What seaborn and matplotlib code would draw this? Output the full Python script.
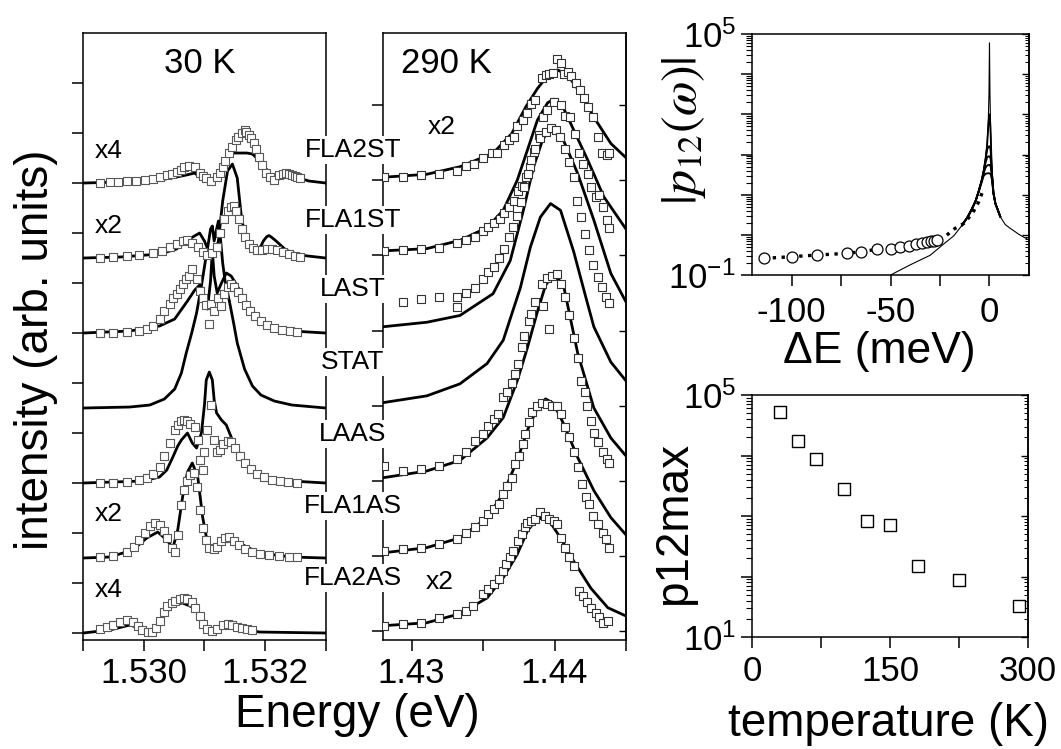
import numpy as np
import matplotlib
matplotlib.use('Agg')
import matplotlib.pyplot as plt
import seaborn as sns
from matplotlib.ticker import LogLocator, NullFormatter, FixedLocator

# ---------------- 30 K spectra: energy (eV), intensity above own baseline ----------------
e30_fla2st_fit = [1.52900, 1.52961, 1.52993, 1.53026, 1.53054, 1.53070, 1.53084, 1.53092, 1.53100, 1.53108,
                  1.53116, 1.53125, 1.53136, 1.53146, 1.53162, 1.53170, 1.53179, 1.53195, 1.53203, 1.53211,
                  1.53223, 1.53234, 1.53256, 1.53272, 1.53300]
i30_fla2st_fit = [0, 0.02, 0.03, 0.06, 0.12, 0.16, 0.20, 0.12, 0.06, 0.04,
                  0.10, 0.20, 0.46, 0.60, 0.60, 0.60, 0.58, 0.40, 0.26, 0.10,
                  0.08, 0.16, 0.10, 0.04, 0]
e30_fla2st_exp = [1.52928, 1.52944, 1.52957, 1.52972, 1.52987, 1.53002, 1.53015, 1.53026, 1.53038, 1.53046,
                  1.53054, 1.53061, 1.53067, 1.53075, 1.53084, 1.53092, 1.53097, 1.53103, 1.53111, 1.53120,
                  1.53125, 1.53130, 1.53134, 1.53141, 1.53146, 1.53152, 1.53156, 1.53161, 1.53166, 1.53169,
                  1.53174, 1.53177, 1.53182, 1.53185, 1.53190, 1.53195, 1.53202, 1.53208, 1.53215, 1.53223,
                  1.53229, 1.53234, 1.53239, 1.53244, 1.53249, 1.53252, 1.53257]
i30_fla2st_exp = [0, 0.02, 0.03, 0.04, 0.05, 0.06, 0.08, 0.12, 0.16, 0.19,
                  0.22, 0.27, 0.32, 0.34, 0.32, 0.20, 0.15, 0.10, 0.04, 0.12,
                  0.20, 0.32, 0.45, 0.60, 0.72, 0.86, 0.92, 1.00, 1.06, 1.03,
                  0.96, 0.90, 0.80, 0.68, 0.52, 0.36, 0.20, 0.12, 0.06, 0.16,
                  0.19, 0.20, 0.19, 0.16, 0.14, 0.12, 0.10]

e30_fla1st_fit = [1.52900, 1.52961, 1.53026, 1.53054, 1.53075, 1.53092, 1.53100, 1.53108, 1.53116, 1.53123,
                  1.53130, 1.53138, 1.53146, 1.53154, 1.53161, 1.53169, 1.53177, 1.53185, 1.53193, 1.53197,
                  1.53202, 1.53206, 1.53210, 1.53218, 1.53234, 1.53256, 1.53300]
i30_fla1st_fit = [0, 0.02, 0.08, 0.18, 0.38, 0.50, 0.34, 0.10, 0.04, 0.34,
                  1.14, 1.74, 1.88, 1.60, 0.80, 0.34, 0.20, 0.14, 0.24, 0.34,
                  0.42, 0.45, 0.42, 0.34, 0.16, 0.06, 0]
e30_fla1st_exp = [1.52928, 1.52949, 1.52972, 1.52993, 1.53015, 1.53030, 1.53043, 1.53054, 1.53064, 1.53072,
                  1.53080, 1.53089, 1.53097, 1.53105, 1.53113, 1.53120, 1.53126, 1.53133, 1.53138, 1.53143,
                  1.53148, 1.53152, 1.53157, 1.53162, 1.53167, 1.53174, 1.53180, 1.53187, 1.53195, 1.53203,
                  1.53211, 1.53220, 1.53230, 1.53239, 1.53249, 1.53257]
i30_fla1st_exp = [0, 0.02, 0.04, 0.06, 0.10, 0.14, 0.22, 0.28, 0.34, 0.36,
                  0.30, 0.22, 0.12, 0.06, 0.10, 0.22, 0.50, 0.78, 0.94, 1.02,
                  1.04, 0.94, 0.78, 0.58, 0.42, 0.28, 0.20, 0.16, 0.16, 0.18,
                  0.18, 0.16, 0.12, 0.08, 0.04, 0.02]

e30_last_fit = [1.52900, 1.52977, 1.53026, 1.53051, 1.53072, 1.53084, 1.53092, 1.53098, 1.53105, 1.53110,
                1.53113, 1.53116, 1.53121, 1.53128, 1.53136, 1.53144, 1.53154, 1.53166, 1.53179, 1.53195,
                1.53218, 1.53244, 1.53300]
i30_last_fit = [0, 0.04, 0.14, 0.28, 0.64, 0.86, 0.96, 0.80, 0.48, 1.04,
                1.64, 1.14, 0.80, 1.00, 1.20, 1.14, 0.94, 0.68, 0.44, 0.24,
                0.10, 0.04, 0]
e30_last_exp = [1.52928, 1.52949, 1.52972, 1.52993, 1.53005, 1.53015, 1.53026, 1.53034, 1.53043, 1.53049,
                1.53054, 1.53059, 1.53064, 1.53070, 1.53075, 1.53080, 1.53087, 1.53092, 1.53097, 1.53102,
                1.53107, 1.53111, 1.53116, 1.53123, 1.53128, 1.53133, 1.53138, 1.53143, 1.53149, 1.53156,
                1.53162, 1.53169, 1.53175, 1.53184, 1.53193, 1.53203, 1.53215, 1.53228, 1.53241, 1.53252]
i30_last_exp = [0, 0.01, 0.02, 0.04, 0.08, 0.14, 0.28, 0.44, 0.58, 0.70,
                0.78, 0.88, 0.98, 1.08, 1.14, 1.28, 1.08, 0.84, 0.70, 0.56,
                0.18, 0.58, 0.44, 0.70, 0.54, 0.78, 0.92, 0.98, 0.92, 0.82,
                0.70, 0.56, 0.44, 0.34, 0.24, 0.16, 0.10, 0.06, 0.04, 0.02]

e30_stat_fit = [1.52900, 1.52977, 1.53010, 1.53034, 1.53051, 1.53062, 1.53070, 1.53079, 1.53087, 1.53095,
                1.53102, 1.53107, 1.53110, 1.53113, 1.53116, 1.53120, 1.53123, 1.53126, 1.53130, 1.53134,
                1.53141, 1.53148, 1.53154, 1.53166, 1.53179, 1.53193, 1.53215, 1.53244, 1.53300]
i30_stat_fit = [0, 0.02, 0.06, 0.18, 0.38, 0.70, 1.10, 1.50, 1.90, 2.44,
                2.98, 3.34, 3.58, 3.64, 3.34, 3.58, 3.74, 3.44, 2.90, 2.54,
                2.14, 1.70, 1.30, 0.78, 0.44, 0.26, 0.14, 0.06, 0]

e30_laas_fit = [1.52900, 1.52998, 1.53026, 1.53038, 1.53048, 1.53056, 1.53062, 1.53072, 1.53080, 1.53087,
                1.53095, 1.53100, 1.53103, 1.53108, 1.53113, 1.53116, 1.53120, 1.53128, 1.53136, 1.53146,
                1.53161, 1.53179, 1.53211, 1.53244, 1.53300]
i30_laas_fit = [0, 0.04, 0.12, 0.26, 0.52, 0.74, 0.86, 1.00, 0.80, 0.70,
                1.00, 1.56, 2.06, 2.22, 2.06, 1.66, 1.40, 1.26, 1.16, 0.86,
                0.52, 0.26, 0.08, 0.04, 0]
e30_laas_exp = [1.52928, 1.52949, 1.52972, 1.52993, 1.53005, 1.53015, 1.53026, 1.53034, 1.53043, 1.53051,
                1.53056, 1.53062, 1.53067, 1.53072, 1.53077, 1.53084, 1.53089, 1.53093, 1.53097, 1.53100,
                1.53105, 1.53110, 1.53115, 1.53120, 1.53125, 1.53131, 1.53138, 1.53144, 1.53151, 1.53159,
                1.53167, 1.53177, 1.53187, 1.53198, 1.53211, 1.53225, 1.53238, 1.53252]
i30_laas_exp = [0, 0.01, 0.02, 0.06, 0.10, 0.18, 0.32, 0.54, 0.80, 1.06,
                1.16, 1.24, 1.26, 1.24, 1.18, 1.12, 0.86, 0.46, 0.26, 0.62,
                1.06, 1.56, 0.86, 0.62, 0.66, 0.78, 0.84, 0.82, 0.70, 0.54,
                0.40, 0.28, 0.18, 0.12, 0.06, 0.04, 0.02, 0]

e30_fla1as_fit = [1.52900, 1.52944, 1.52982, 1.53005, 1.53023, 1.53038, 1.53048, 1.53056, 1.53064, 1.53072,
                  1.53080, 1.53089, 1.53097, 1.53105, 1.53113, 1.53125, 1.53138, 1.53157, 1.53190, 1.53244,
                  1.53300]
i30_fla1as_fit = [0, 0.02, 0.16, 0.40, 0.52, 0.36, 0.20, 0.56, 1.22, 1.72,
                  1.90, 1.62, 0.82, 0.30, 0.16, 0.32, 0.46, 0.30, 0.10, 0.02,
                  0]
e30_fla1as_exp = [1.52928, 1.52949, 1.52972, 1.52984, 1.52993, 1.53002, 1.53010, 1.53018, 1.53026, 1.53033,
                  1.53039, 1.53046, 1.53051, 1.53056, 1.53062, 1.53067, 1.53072, 1.53077, 1.53082, 1.53087,
                  1.53092, 1.53097, 1.53102, 1.53108, 1.53115, 1.53121, 1.53128, 1.53134, 1.53141, 1.53149,
                  1.53157, 1.53167, 1.53179, 1.53192, 1.53207, 1.53223, 1.53239, 1.53252]
i30_fla1as_exp = [0.02, 0.04, 0.12, 0.22, 0.36, 0.50, 0.64, 0.70, 0.66, 0.54,
                  0.40, 0.20, 0.12, 0.46, 1.06, 1.36, 1.54, 1.66, 1.70, 1.42,
                  0.96, 0.60, 0.36, 0.20, 0.18, 0.22, 0.34, 0.40, 0.42, 0.34,
                  0.26, 0.18, 0.12, 0.08, 0.06, 0.04, 0.02, 0.02]

e30_fla2as_fit = [1.52900, 1.52944, 1.52964, 1.52977, 1.52993, 1.53010, 1.53026, 1.53043, 1.53054, 1.53064,
                  1.53080, 1.53089, 1.53097, 1.53111, 1.53125, 1.53138, 1.53157, 1.53190, 1.53300]
i30_fla2as_fit = [0, 0.06, 0.12, 0.16, 0.10, 0.02, 0.20, 0.50, 0.58, 0.60,
                  0.52, 0.42, 0.20, 0.02, 0.12, 0.20, 0.10, 0.02, 0]
e30_fla2as_exp = [1.52928, 1.52939, 1.52949, 1.52961, 1.52972, 1.52982, 1.52990, 1.52998, 1.53007, 1.53013,
                  1.53020, 1.53026, 1.53033, 1.53039, 1.53046, 1.53052, 1.53059, 1.53066, 1.53072, 1.53079,
                  1.53085, 1.53092, 1.53098, 1.53105, 1.53113, 1.53121, 1.53130, 1.53138, 1.53146, 1.53154,
                  1.53162, 1.53170, 1.53179]
i30_fla2as_exp = [0.08, 0.12, 0.16, 0.22, 0.26, 0.22, 0.14, 0.06, 0.02, 0.02,
                  0.10, 0.24, 0.42, 0.54, 0.60, 0.64, 0.68, 0.70, 0.68, 0.62,
                  0.50, 0.34, 0.18, 0.08, 0.04, 0.08, 0.16, 0.18, 0.16, 0.12,
                  0.10, 0.08, 0.06]

# ---------------- 290 K spectra ----------------
e290_fla2st_fit = [1.42800, 1.43106, 1.43338, 1.43570, 1.43700, 1.43800, 1.43880, 1.43951, 1.44021, 1.44092,
                   1.44183, 1.44275, 1.44394, 1.44500]
i290_fla2st_fit = [0.04, 0.08, 0.18, 0.36, 0.62, 0.98, 1.22, 1.39, 1.47, 1.40,
                   1.16, 0.84, 0.49, 0.30]
e290_fla2st_exp = [1.42810, 1.42939, 1.43063, 1.43190, 1.43315, 1.43380, 1.43437, 1.43498, 1.43561, 1.43596,
                   1.43643, 1.43678, 1.43713, 1.43737, 1.43777, 1.43808, 1.43836, 1.43866, 1.43913, 1.43937,
                   1.43960, 1.43991, 1.44019, 1.44042, 1.44066, 1.44094, 1.44118, 1.44148, 1.44176, 1.44207,
                   1.44237, 1.44266, 1.44301, 1.44329, 1.44364, 1.44382]
i290_fla2st_exp = [0.04, 0.05, 0.07, 0.09, 0.12, 0.19, 0.21, 0.29, 0.36, 0.36,
                   0.47, 0.53, 0.58, 0.72, 0.80, 0.90, 1.02, 1.07, 1.36, 1.40,
                   1.42, 1.43, 1.61, 1.56, 1.42, 1.44, 1.39, 1.29, 1.20, 1.09,
                   0.97, 0.84, 0.58, 0.36, 0.33, 0.36]

e290_fla1st_fit = [1.42800, 1.43106, 1.43338, 1.43528, 1.43641, 1.43739, 1.43810, 1.43880, 1.43951, 1.43993,
                   1.44063, 1.44134, 1.44232, 1.44345, 1.44500]
i290_fla1st_fit = [0.06, 0.09, 0.20, 0.37, 0.60, 1.00, 1.40, 1.80, 2.03, 2.08,
                   1.96, 1.67, 1.27, 0.78, 0.35]
e290_fla1st_exp = [1.42810, 1.42939, 1.43063, 1.43190, 1.43315, 1.43380, 1.43444, 1.43498, 1.43538, 1.43573,
                   1.43615, 1.43643, 1.43678, 1.43718, 1.43742, 1.43772, 1.43803, 1.43831, 1.43859, 1.43890,
                   1.43920, 1.43949, 1.43995, 1.44042, 1.44070, 1.44108, 1.44141, 1.44171, 1.44202, 1.44235,
                   1.44258, 1.44289, 1.44312, 1.44336, 1.44366, 1.44382]
i290_fla1st_exp = [0.06, 0.07, 0.08, 0.10, 0.16, 0.20, 0.25, 0.32, 0.38, 0.43,
                   0.49, 0.56, 0.64, 0.73, 0.86, 0.93, 1.04, 1.18, 1.38, 1.60,
                   1.84, 1.94, 2.04, 2.00, 1.85, 1.84, 1.62, 1.36, 1.22, 1.09,
                   0.91, 0.78, 0.80, 0.64, 0.47, 0.36]

e290_last_fit = [1.42800, 1.43106, 1.43338, 1.43570, 1.43690, 1.43782, 1.43852, 1.43915, 1.43972, 1.44063,
                 1.44162, 1.44275, 1.44394, 1.44500]
i290_last_fit = [0.05, 0.11, 0.20, 0.49, 0.93, 1.60, 2.17, 2.53, 2.71, 2.53,
                 2.09, 1.47, 0.76, 0.38]
e290_last_exp = [1.42939, 1.43063, 1.43190, 1.43315, 1.43315, 1.43380, 1.43444, 1.43502, 1.43538, 1.43573,
                 1.43608, 1.43643, 1.43678, 1.43709, 1.43737, 1.43765, 1.43789, 1.43812, 1.43836, 1.43866,
                 1.43901, 1.43937, 1.43972, 1.44007, 1.44038, 1.44070, 1.44101, 1.44136, 1.44160, 1.44183,
                 1.44211, 1.44242, 1.44270, 1.44301, 1.44329, 1.44359, 1.44382]
i290_last_exp = [0.38, 0.42, 0.44, 0.44, 0.31, 0.50, 0.56, 0.68, 0.78, 0.84,
                 0.97, 1.08, 1.24, 1.38, 1.53, 1.71, 1.91, 2.09, 2.27, 2.42,
                 2.56, 2.64, 2.69, 2.67, 2.58, 2.42, 2.24, 2.04, 1.73, 1.51,
                 1.29, 1.07, 0.87, 0.71, 0.58, 0.44, 0.36]

e290_stat_fit = [1.42800, 1.43106, 1.43338, 1.43528, 1.43641, 1.43761, 1.43831, 1.43901, 1.43972, 1.44042,
                 1.44134, 1.44218, 1.44275, 1.44394, 1.44500]
i290_stat_fit = [0.04, 0.13, 0.29, 0.56, 0.87, 1.57, 2.11, 2.51, 2.69, 2.60,
                 2.05, 1.45, 1.05, 0.58, 0.33]

e290_laas_fit = [1.42800, 1.43106, 1.43338, 1.43528, 1.43641, 1.43739, 1.43810, 1.43880, 1.43937, 1.43993,
                 1.44063, 1.44162, 1.44275, 1.44394, 1.44500]
i290_laas_fit = [0.04, 0.13, 0.27, 0.57, 0.84, 1.33, 1.77, 2.25, 2.60, 2.76,
                 2.60, 1.70, 0.97, 0.57, 0.33]
e290_laas_exp = [1.42810, 1.42939, 1.43063, 1.43190, 1.43315, 1.43380, 1.43444, 1.43502, 1.43538, 1.43573,
                 1.43603, 1.43638, 1.43667, 1.43702, 1.43725, 1.43742, 1.43772, 1.43789, 1.43819, 1.43836,
                 1.43866, 1.43913, 1.43920, 1.43949, 1.43960, 1.43984, 1.44019, 1.44042, 1.44070, 1.44101,
                 1.44136, 1.44162, 1.44183, 1.44211, 1.44230, 1.44254, 1.44275, 1.44305, 1.44336, 1.44364,
                 1.44382]
i290_laas_exp = [0.19, 0.13, 0.16, 0.19, 0.29, 0.38, 0.53, 0.62, 0.73, 0.82,
                 0.89, 1.11, 1.18, 1.30, 1.42, 1.56, 1.78, 1.93, 2.13, 2.22,
                 2.38, 2.62, 2.33, 2.70, 2.02, 2.73, 2.75, 2.62, 2.45, 2.20,
                 1.90, 1.64, 1.33, 1.18, 1.00, 0.80, 0.64, 0.51, 0.38, 0.29,
                 0.24]

e290_fla1as_fit = [1.42800, 1.43106, 1.43338, 1.43528, 1.43641, 1.43739, 1.43810, 1.43880, 1.43937, 1.43993,
                   1.44063, 1.44162, 1.44275, 1.44394, 1.44500]
i290_fla1as_fit = [0.04, 0.11, 0.24, 0.51, 0.83, 1.27, 1.67, 1.97, 2.09, 2.03,
                   1.76, 1.31, 0.87, 0.51, 0.28]
e290_fla1as_exp = [1.42810, 1.42939, 1.43063, 1.43190, 1.43315, 1.43380, 1.43444, 1.43502, 1.43538, 1.43573,
                   1.43608, 1.43638, 1.43667, 1.43702, 1.43725, 1.43749, 1.43777, 1.43796, 1.43819, 1.43843,
                   1.43880, 1.43913, 1.43949, 1.43984, 1.44019, 1.44042, 1.44070, 1.44101, 1.44136, 1.44164,
                   1.44195, 1.44218, 1.44242, 1.44272, 1.44305, 1.44336, 1.44359, 1.44382]
i290_fla1as_exp = [0.07, 0.09, 0.11, 0.16, 0.22, 0.31, 0.38, 0.47, 0.56, 0.62,
                   0.69, 0.82, 0.93, 1.04, 1.22, 1.33, 1.49, 1.62, 1.78, 1.91,
                   2.00, 2.04, 2.02, 2.00, 2.00, 1.89, 1.71, 1.58, 1.38, 1.18,
                   0.96, 0.78, 0.69, 0.53, 0.42, 0.31, 0.22, 0.11]

e290_fla2as_fit = [1.42800, 1.43106, 1.43338, 1.43528, 1.43641, 1.43739, 1.43810, 1.43866, 1.43915, 1.43972,
                   1.44042, 1.44134, 1.44254, 1.44373, 1.44500]
i290_fla2as_fit = [0.07, 0.11, 0.23, 0.44, 0.71, 1.02, 1.33, 1.47, 1.51, 1.44,
                   1.24, 0.93, 0.57, 0.31, 0.20]
e290_fla2as_exp = [1.42810, 1.42939, 1.43063, 1.43190, 1.43315, 1.43380, 1.43432, 1.43502, 1.43538, 1.43573,
                   1.43608, 1.43638, 1.43662, 1.43685, 1.43709, 1.43742, 1.43772, 1.43796, 1.43808, 1.43836,
                   1.43866, 1.43901, 1.43930, 1.43960, 1.43995, 1.44019, 1.44042, 1.44070, 1.44101, 1.44136,
                   1.44171, 1.44202, 1.44230, 1.44258, 1.44289, 1.44312, 1.44336, 1.44371]
i290_fla2as_exp = [0.07, 0.09, 0.11, 0.17, 0.23, 0.27, 0.33, 0.49, 0.56, 0.62,
                   0.69, 0.80, 0.89, 0.98, 1.07, 1.20, 1.29, 1.38, 1.44, 1.47,
                   1.49, 1.58, 1.53, 1.49, 1.47, 1.42, 1.24, 1.11, 0.98, 0.87,
                   0.53, 0.47, 0.38, 0.31, 0.24, 0.18, 0.11, 0.13]

spectra_names = ['FLA2ST', 'FLA1ST', 'LAST', 'STAT', 'LAAS', 'FLA1AS', 'FLA2AS']
offsets_30k = [9, 7.5, 6, 4.5, 3, 1.5, 0]
offsets_290k = [6, 5, 4, 3, 2, 1, 0]

# ---------------- |p12(w)| versus detuning ----------------
de_circles = [-114, -100, -87, -72, -65, -57, -50, -45, -40.5, -37, -34, -31.7, -29.6, -28, -26.3]
p_circles = [0.26, 0.286, 0.315, 0.347, 0.381, 0.435, 0.435, 0.489, 0.537, 0.58, 0.614, 0.65, 0.689, 0.716, 0.744]
de_dotted_tail = [-22, -17.4, -12.9, -8.5, -5.4, -3.5]
p_dotted_tail = [0.95, 1.45, 1.93, 3.5, 6.7, 12]

de_thin = [-50, -40, -30, -23, -18, -14, -11, -9, -7, -5.5, -4, -3, -2, -1.2, -0.6, -0.25, 0,
           0.25, 0.6, 1.2, 2, 3, 5.5, 8, 10.5, 15, 20]
p_thin = [0.1, 0.18, 0.31, 0.6, 0.95, 1.7, 2.8, 4.3, 7, 12, 22, 38, 80, 190, 700, 3500, 60000,
          3000, 400, 40, 11, 6, 2.8, 1.8, 1.45, 1.02, 0.74]
de_thick = [-14, -11, -9, -7, -5.5, -4, -3, -2, -1.2, -0.6, -0.25, 0, 0.25, 0.6, 1.2, 2, 3, 5.5]
p_thick_1000 = [1.7, 2.8, 4.3, 7, 12, 22, 38, 78, 170, 500, 850, 1000, 800, 300, 38, 11, 6, 2.8]
p_thick_160 = [1.7, 2.8, 4.3, 7, 12, 22, 37, 72, 130, 155, 160, 160, 158, 120, 36, 11, 6, 2.8]
p_thick_90 = [1.7, 2.8, 4.3, 7, 12, 22, 36, 62, 84, 90, 90, 90, 89, 75, 34, 11, 6, 2.8]
p_thick_55 = [1.7, 2.8, 4.3, 7, 12, 21, 33, 47, 53, 55, 55, 55, 55, 49, 30, 11, 6, 2.8]
p_thick_34 = [1.7, 2.8, 4.3, 7, 11.5, 20, 29, 33, 34, 34, 34, 34, 34, 32, 24, 10.5, 6, 2.8]

# ---------------- p12max versus temperature ----------------
temperature = [30, 50, 70, 100, 125, 150, 180, 225, 290]
p12max = [51800, 17600, 8800, 2840, 843, 706, 152, 88, 33]

spectra_30k = [(e30_fla2st_fit, i30_fla2st_fit, e30_fla2st_exp, i30_fla2st_exp),
               (e30_fla1st_fit, i30_fla1st_fit, e30_fla1st_exp, i30_fla1st_exp),
               (e30_last_fit, i30_last_fit, e30_last_exp, i30_last_exp),
               (e30_stat_fit, i30_stat_fit, None, None),
               (e30_laas_fit, i30_laas_fit, e30_laas_exp, i30_laas_exp),
               (e30_fla1as_fit, i30_fla1as_fit, e30_fla1as_exp, i30_fla1as_exp),
               (e30_fla2as_fit, i30_fla2as_fit, e30_fla2as_exp, i30_fla2as_exp)]
spectra_290k = [(e290_fla2st_fit, i290_fla2st_fit, e290_fla2st_exp, i290_fla2st_exp),
                (e290_fla1st_fit, i290_fla1st_fit, e290_fla1st_exp, i290_fla1st_exp),
                (e290_last_fit, i290_last_fit, e290_last_exp, i290_last_exp),
                (e290_stat_fit, i290_stat_fit, None, None),
                (e290_laas_fit, i290_laas_fit, e290_laas_exp, i290_laas_exp),
                (e290_fla1as_fit, i290_fla1as_fit, e290_fla1as_exp, i290_fla1as_exp),
                (e290_fla2as_fit, i290_fla2as_fit, e290_fla2as_exp, i290_fla2as_exp)]

# ---------------- style ----------------
sns.set_theme(style='ticks', rc={'axes.edgecolor': 'black', 'xtick.color': 'black', 'ytick.color': 'black',
                                 'text.color': 'black', 'axes.labelcolor': 'black'})
plt.rcParams['font.family'] = ['Liberation Sans', 'DejaVu Sans']
plt.rcParams['mathtext.fontset'] = 'stix'
plt.rcParams['axes.linewidth'] = 1.1
plt.rcParams['axes.unicode_minus'] = False

fig = plt.figure(figsize=(10.61, 7.49), dpi=100)
ax1 = fig.add_axes([0.0782, 0.1455, 0.2290, 0.8104])
ax2 = fig.add_axes([0.3610, 0.1455, 0.2290, 0.8104])
ax3 = fig.add_axes([0.7088, 0.6328, 0.2611, 0.3218])
ax4 = fig.add_axes([0.7088, 0.1495, 0.2601, 0.3231])


def draw_spectra(ax, spectra, offsets, msize, edge):
    for (ef, yf, ee, ye), off in zip(spectra, offsets):
        sns.lineplot(x=ef, y=np.asarray(yf) + off, ax=ax, color='black', linewidth=2.0,
                     sort=False, estimator=None)
        if ee is not None:
            sns.scatterplot(x=ee, y=np.asarray(ye) + off, ax=ax, marker='s', s=msize,
                            color='white', edgecolor=edge, linewidth=0.8, zorder=3)


# 30 K panel
draw_spectra(ax1, spectra_30k, offsets_30k, 27, '0.35')
ax1.set_xlim(1.529, 1.533)
ax1.set_ylim(-0.14, 12.0)
ax1.set_xticks([1.529, 1.530, 1.531, 1.532, 1.533])
ax1.set_xticklabels(['', '1.530', '', '1.532', ''])
ax1.set_yticks(range(12))
ax1.tick_params(axis='both', direction='out', length=8, width=1.1, labelsize=25, pad=4)
ax1.tick_params(axis='y', labelleft=False)
ax1.text(1.53093, 11.4, '30 K', fontsize=25, ha='center', va='center')
for x, y, s in [(1.52943, 9.64, 'x4'), (1.52943, 8.14, 'x2'), (1.52942, 2.38, 'x2'), (1.52942, 0.86, 'x4')]:
    ax1.text(x, y, s, fontsize=19, ha='center', va='center')
ax1.set_ylabel('intensity (arb. units)', fontsize=33, va='center', ha='center')
ax1.yaxis.set_label_coords(-0.193, 0.479)
ax1.set_xlabel('Energy (eV)', fontsize=33, va='center', ha='center')
ax1.xaxis.set_label_coords(1.128, -0.124)

# 290 K panel
draw_spectra(ax2, spectra_290k, offsets_290k, 29, '0.2')
ax2.set_xlim(1.428, 1.445)
ax2.set_ylim(-0.12, 7.96)
ax2.set_xticks([1.43, 1.435, 1.44, 1.445])
ax2.set_xticklabels(['1.43', '', '1.44', ''])
ax2.set_yticks(range(8))
ax2.tick_params(axis='both', direction='out', length=8, width=1.1, labelsize=25, pad=4)
ax2.tick_params(axis='y', labelleft=False)
ax2r = ax2.secondary_yaxis('right')
ax2r.set_yticks(range(8))
ax2r.tick_params(direction='in', length=5, width=1.0, labelright=False)
ax2.text(1.43246, 7.55, '290 K', fontsize=25, ha='center', va='center')
ax2.text(1.43211, 6.71, 'x2', fontsize=19, ha='center', va='center')
ax2.text(1.43197, 0.65, 'x2', fontsize=19, ha='center', va='center')

# spectrum names between the two panels
name_rows = [150, 220, 289, 362, 434, 506, 578]
for name, row in zip(spectra_names, name_rows):
    fig.text(353 / 1061, 1 - row / 749, name, fontsize=19, ha='center', va='center',
             bbox=dict(facecolor='white', edgecolor='none', pad=1.5))

# |p12(w)| panel
ax3.set_yscale('log')
for p in [p_thick_1000, p_thick_160, p_thick_90, p_thick_55, p_thick_34]:
    sns.lineplot(x=de_thick, y=p, ax=ax3, color='black', linewidth=1.3, sort=False, estimator=None)
sns.lineplot(x=de_thin, y=p_thin, ax=ax3, color='black', linewidth=0.8, sort=False, estimator=None)
ax3.plot(de_circles + de_dotted_tail, p_circles + p_dotted_tail, color='black', linestyle=':', linewidth=2.4)
sns.scatterplot(x=de_circles, y=p_circles, ax=ax3, marker='o', s=62, color='white',
                edgecolor='black', linewidth=0.9, zorder=3)
ax3.set_xlim(-120, 20)
ax3.set_ylim(0.1, 1e5)
decades3 = [1e-1, 1, 1e1, 1e2, 1e3, 1e4, 1e5]
ax3.set_xticks([-100, -75, -50, -25, 0])
ax3.set_xticklabels(['-100', '', '-50', '', '0'])
ax3.yaxis.set_major_locator(FixedLocator(decades3))
ax3.set_yticklabels([r'$\mathdefault{10^{-1}}$', '', '', '', '', '', r'$\mathdefault{10^{5}}$'])
ax3.yaxis.set_minor_locator(LogLocator(base=10, subs=np.arange(2, 10), numticks=20))
ax3.yaxis.set_minor_formatter(NullFormatter())
ax3.tick_params(axis='both', which='major', direction='out', length=8, width=1.1, labelsize=25)
ax3.tick_params(axis='x', pad=7)
ax3.tick_params(axis='y', which='minor', direction='out', length=4, width=0.8)
ax3r = ax3.secondary_yaxis('right')
ax3r.yaxis.set_major_locator(FixedLocator(decades3))
ax3r.yaxis.set_minor_locator(LogLocator(base=10, subs=np.arange(2, 10), numticks=20))
ax3r.yaxis.set_minor_formatter(NullFormatter())
ax3r.tick_params(which='major', direction='in', length=5, width=1.0, labelright=False)
ax3r.tick_params(which='minor', direction='in', length=3, width=0.7, labelright=False)
ax3.set_xlabel(r'ΔE (meV)', fontsize=32, va='center', ha='center')
ax3.xaxis.set_label_coords(0.458, -0.318)
ax3.set_ylabel(r'$|p_{12}(\omega)|$', fontsize=36, va='center', ha='center')
ax3.yaxis.set_label_coords(-0.245, 0.60)

# p12max panel
ax4.set_yscale('log')
sns.scatterplot(x=temperature, y=p12max, ax=ax4, marker='s', s=74, color='white',
                edgecolor='black', linewidth=1.0, zorder=3)
ax4.set_xlim(0, 300)
ax4.set_ylim(10, 1e5)
decades4 = [1e1, 1e2, 1e3, 1e4, 1e5]
ax4.set_xticks([0, 75, 150, 225, 300])
ax4.set_xticklabels(['0', '', '150', '', '300'])
ax4.yaxis.set_major_locator(FixedLocator(decades4))
ax4.set_yticklabels([r'$\mathdefault{10^{1}}$', '', '', '', r'$\mathdefault{10^{5}}$'])
ax4.yaxis.set_minor_locator(LogLocator(base=10, subs=np.arange(2, 10), numticks=20))
ax4.yaxis.set_minor_formatter(NullFormatter())
ax4.tick_params(axis='both', which='major', direction='out', length=8, width=1.1, labelsize=25)
ax4.tick_params(axis='x', pad=5)
ax4.tick_params(axis='y', which='minor', direction='out', length=4, width=0.8)
ax4r = ax4.secondary_yaxis('right')
ax4r.yaxis.set_major_locator(FixedLocator(decades4))
ax4r.yaxis.set_minor_locator(LogLocator(base=10, subs=np.arange(2, 10), numticks=20))
ax4r.yaxis.set_minor_formatter(NullFormatter())
ax4r.tick_params(which='major', direction='in', length=5, width=1.0, labelright=False)
ax4r.tick_params(which='minor', direction='in', length=3, width=0.7, labelright=False)
ax4.set_xlabel('temperature (K)', fontsize=33, va='center', ha='center')
ax4.xaxis.set_label_coords(0.493, -0.360)
ax4.set_ylabel('p12max', fontsize=33, va='center', ha='center')
ax4.yaxis.set_label_coords(-0.283, 0.471)

fig.savefig('out.png', dpi=100)
